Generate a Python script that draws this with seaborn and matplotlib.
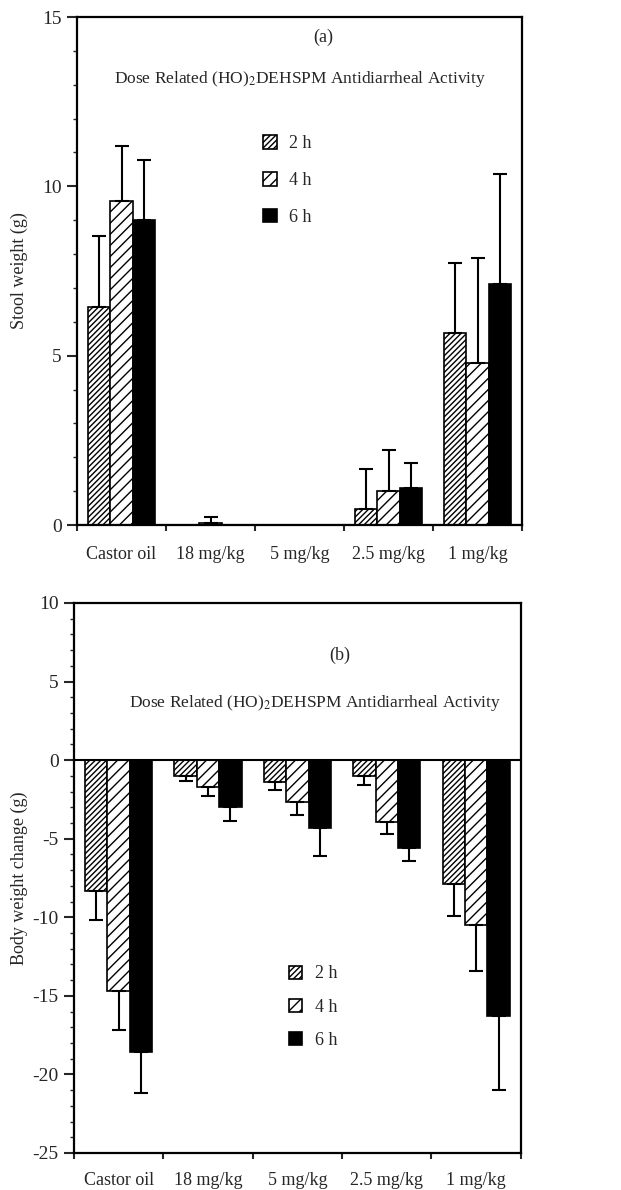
import numpy as np
import pandas as pd
import matplotlib
matplotlib.use("Agg")
import matplotlib.pyplot as plt
from matplotlib.patches import Patch
from matplotlib.ticker import MultipleLocator
import seaborn as sns

# values
categories = ["Castor oil", "18 mg/kg", "5 mg/kg", "2.5 mg/kg", "1 mg/kg"]
times = ["2 h", "4 h", "6 h"]

stool_2h = [6.44, 0.0, 0.0, 0.46, 5.68]
stool_4h = [9.56, 0.05, 0.0, 1.01, 4.77]
stool_6h = [9.02, 0.0, 0.0, 1.08, 7.11]
stool_2h_err = [2.08, 0.0, 0.0, 1.20, 2.07]
stool_4h_err = [1.63, 0.20, 0.0, 1.22, 3.10]
stool_6h_err = [1.75, 0.0, 0.0, 0.74, 3.26]

body_2h = [-8.33, -1.0, -1.4, -1.0, -7.9]
body_4h = [-14.7, -1.7, -2.65, -3.95, -10.5]
body_6h = [-18.6, -3.0, -4.3, -5.6, -16.3]
body_2h_err = [1.84, 0.3, 0.5, 0.6, 2.0]
body_4h_err = [2.5, 0.6, 0.85, 0.75, 2.9]
body_6h_err = [2.6, 0.9, 1.8, 0.85, 4.7]

title = "Dose Related (HO)$_2$DEHSPM Antidiarrheal Activity"

sns.set_style("ticks")
plt.rcParams["font.family"] = ["Liberation Serif", "DejaVu Serif"]
plt.rcParams["mathtext.fontset"] = "stix"
plt.rcParams["axes.unicode_minus"] = False
plt.rcParams["hatch.linewidth"] = 1.0
plt.rcParams["hatch.color"] = "black"

colors = {"2 h": "white", "4 h": "white", "6 h": "black"}
hatches = ["//////", "///", ""]
FS = 13


def long_table(series):
    rows = []
    for t, vals in zip(times, series):
        for c, v in zip(categories, vals):
            rows.append({"dose": c, "time": t, "value": v})
    return pd.DataFrame(rows)


def draw_panel(ax, series, errs, ylim, ylabel, ylab_x, xpad, tag, tag_xy,
               title_xy, leg_xy, leg_space):
    df = long_table(series)
    sns.barplot(data=df, x="dose", y="value", hue="time", order=categories,
                hue_order=times, palette=colors, edgecolor="black",
                linewidth=1.2, width=0.75, errorbar=None, legend=False, ax=ax)
    for cont, h, vals, ee in zip(ax.containers, hatches, series, errs):
        xs = []
        lo = []
        hi = []
        ys = []
        for bar, v, e in zip(cont, vals, ee):
            bar.set_hatch(h)
            if e <= 0:
                continue
            xs.append(bar.get_x() + bar.get_width() / 2)
            ys.append(v)
            lo.append(e if v < 0 else 0)
            hi.append(e if v >= 0 else 0)
        ax.errorbar(xs, ys, yerr=[lo, hi], fmt="none", ecolor="black",
                    elinewidth=1.5, capsize=5, capthick=1.5, zorder=5)

    ax.set_xlim(-0.5, len(categories) - 0.5)
    ax.set_ylim(*ylim)
    ax.yaxis.set_major_locator(MultipleLocator(5))
    ax.yaxis.set_minor_locator(MultipleLocator(1))
    ax.set_xticks(np.arange(-0.5, len(categories)), minor=True)
    ax.tick_params(axis="x", which="major", length=0, pad=xpad, labelsize=FS)
    ax.tick_params(axis="x", which="minor", length=4, width=1.5, direction="out")
    ax.tick_params(axis="y", which="major", length=7, width=1.5, labelsize=FS + 1, pad=4)
    ax.tick_params(axis="y", which="minor", length=3, width=1)
    ax.set_xlabel("")
    ax.set_ylabel(ylabel, fontsize=FS)
    ax.yaxis.set_label_coords(ylab_x, 0.5)
    for s in ax.spines.values():
        s.set_visible(True)
        s.set_linewidth(1.6)
        s.set_color("black")
    ax.axhline(0, color="black", lw=1.5, zorder=6)

    ax.text(tag_xy[0], tag_xy[1], tag, transform=ax.transAxes, ha="center",
            va="center", fontsize=FS)
    ax.text(title_xy[0], title_xy[1], title, transform=ax.transAxes,
            ha="center", va="center", fontsize=12.5)

    handles = [Patch(facecolor=colors[t], edgecolor="black", hatch=h, linewidth=1.2)
               for t, h in zip(times, hatches)]
    ax.legend(handles, times, loc="upper left", bbox_to_anchor=leg_xy,
              frameon=False, fontsize=FS, borderpad=0, borderaxespad=0,
              handlelength=0.75, handleheight=0.75, handletextpad=0.7,
              labelspacing=leg_space)


fig = plt.figure(figsize=(6.21, 11.9), dpi=100)
ax1 = fig.add_axes([0.124, 0.5588, 0.7166, 0.4269])
ax2 = fig.add_axes([0.119, 0.0311, 0.7198, 0.4622])

draw_panel(ax1, [stool_2h, stool_4h, stool_6h],
           [stool_2h_err, stool_4h_err, stool_6h_err],
           (0, 15), "Stool weight (g)", -0.11, 15, "(a)", (0.553, 0.96),
           (0.502, 0.878), (0.418, 0.767), 1.1)
draw_panel(ax2, [body_2h, body_4h, body_6h],
           [body_2h_err, body_4h_err, body_6h_err],
           (-25, 10), "Body weight change (g)", -0.103, 14, "(b)", (0.595, 0.905),
           (0.539, 0.818), (0.481, 0.341), 0.9)

fig.savefig("out.png", dpi=100)
